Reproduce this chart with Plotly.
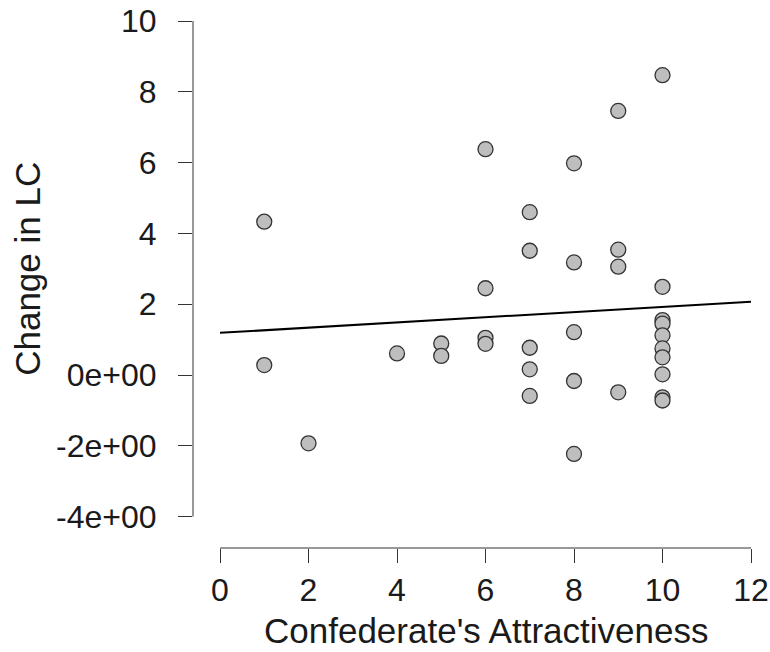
import plotly.graph_objects as go

# Data
attractiveness = [1, 1, 2, 4, 5, 5,
                  6, 6, 6, 6,
                  7, 7, 7, 7, 7,
                  8, 8, 8, 8, 8,
                  9, 9, 9, 9,
                  10, 10, 10, 10, 10, 10, 10, 10, 10, 10]
change_lc = [4.33, 0.28, -1.93, 0.61, 0.89, 0.54,
             6.38, 2.45, 1.05, 0.88,
             4.60, 3.51, 0.77, 0.16, -0.59,
             5.98, 3.18, 1.21, -0.17, -2.23,
             7.46, 3.54, 3.06, -0.49,
             8.47, 2.49, 1.55, 1.45, 1.12, 0.75, 0.50, 0.02, -0.63, -0.72]

fit_x = [0, 12]
fit_y = [1.19, 2.07]

x_ticks = [0, 2, 4, 6, 8, 10, 12]
y_ticks = [-4, -2, 0, 2, 4, 6, 8, 10]
y_ticktext = ["-4e+00", "-2e+00", "0e+00", "2", "4", "6", "8", "10"]

x_title = "Confederate's Attractiveness"
y_title = "Change in LC"

FONT = "Liberation Sans, Arial, Helvetica, sans-serif"
AX = "#333333"

fig = go.Figure()
fig.add_trace(go.Scatter(
    x=fit_x, y=fit_y, mode="lines",
    line=dict(color="black", width=2), hoverinfo="skip", showlegend=False))
fig.add_trace(go.Scatter(
    x=attractiveness, y=change_lc, mode="markers",
    marker=dict(size=15, color="#bebebe", line=dict(color="#333333", width=1.3)),
    showlegend=False))

# Plot area geometry (pixels) -> axis ranges
W, H = 770, 652
L, R, T, B = 193, 760, 10, 548
x0_px, x_per = 220.0, 44.25
y0_px, y_per = 375.0, 35.4
xr = [(L - x0_px) / x_per, (R - x0_px) / x_per]
yr = [(y0_px - B) / y_per, (y0_px - T) / y_per]

fig.update_layout(
    width=W, height=H,
    margin=dict(l=L, r=W - R, t=T, b=H - B, pad=0, autoexpand=False),
    paper_bgcolor="white", plot_bgcolor="white",
    font=dict(family=FONT, color="#1a1a1a"),
    xaxis=dict(range=xr, showgrid=False, zeroline=False, showline=False,
               automargin=False,
               ticks="outside", ticklen=14, tickwidth=1, tickcolor=AX,
               tickvals=x_ticks, tickfont=dict(size=32, family=FONT),
               ticklabelstandoff=0),
    yaxis=dict(range=yr, showgrid=False, zeroline=False, showline=False,
               automargin=False,
               ticks="outside", ticklen=14, tickwidth=1, tickcolor=AX,
               tickvals=y_ticks, ticktext=y_ticktext,
               tickfont=dict(size=32, family=FONT),
               ticklabelstandoff=15),
    shapes=[
        dict(type="line", xref="x", yref="paper", x0=x_ticks[0], x1=x_ticks[-1],
             y0=0, y1=0, line=dict(color=AX, width=1)),
        dict(type="line", xref="paper", yref="y", x0=0, x1=0,
             y0=y_ticks[0], y1=y_ticks[-1], line=dict(color=AX, width=1)),
    ],
    annotations=[
        dict(text=x_title, xref="x", yref="paper",
             x=(x_ticks[0] + x_ticks[-1]) / 2, y=(B - 631) / (B - T),
             xanchor="center", yanchor="middle", showarrow=False,
             font=dict(size=35, family=FONT, color="#1a1a1a")),
        dict(text=y_title, xref="paper", yref="y",
             x=(28 - L) / (R - L), y=(y_ticks[0] + y_ticks[-1]) / 2,
             xanchor="center", yanchor="middle", textangle=-90, showarrow=False,
             font=dict(size=35, family=FONT, color="#1a1a1a")),
    ],
)

fig.write_html(
    "out.html",
    config={"displayModeBar": False},
    post_script="document.body.style.margin='0';document.body.style.overflow='hidden';",
)
